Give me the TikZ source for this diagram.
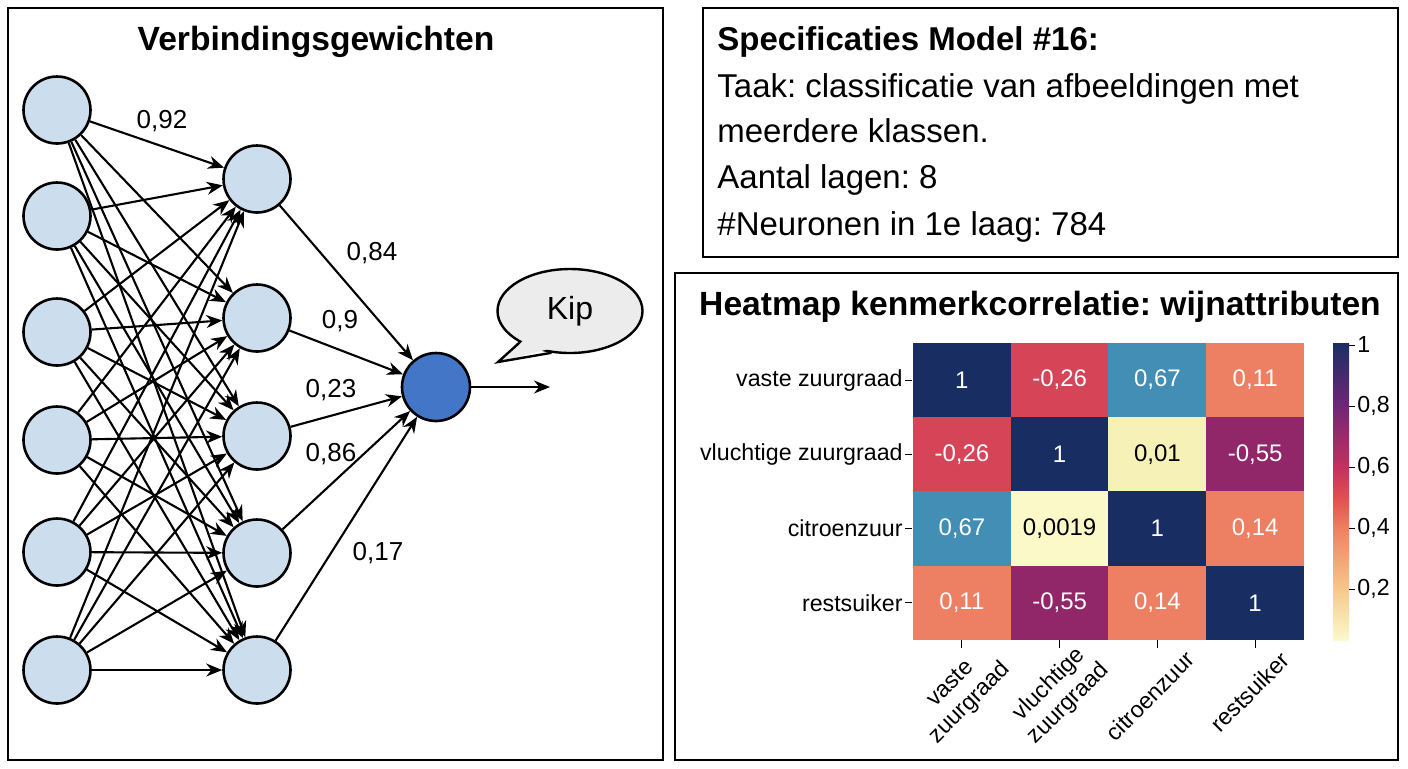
\documentclass[tikz,border=0pt]{standalone}
\usepackage{fontspec}
\setmainfont{Liberation Sans}
\frenchspacing
\usepackage{tikz}
\usetikzlibrary{positioning}
\usetikzlibrary{arrows.meta, shapes.geometric, calc}
\definecolor{nodeblue}{RGB}{204,222,238}
\definecolor{outblue}{RGB}{68,118,200}
\definecolor{bubblegray}{RGB}{236,236,236}
\definecolor{hmnavy}{RGB}{24,46,98}
\definecolor{hmred}{RGB}{214,68,88}
\definecolor{hmteal}{RGB}{66,142,180}
\definecolor{hmsalmon}{RGB}{237,128,98}
\definecolor{hmpale}{RGB}{246,241,182}
\definecolor{hmcream}{RGB}{251,249,200}
\definecolor{hmpurple}{RGB}{145,38,105}
\definecolor{cbA}{RGB}{251,249,205}
\definecolor{cbB}{RGB}{246,200,140}
\definecolor{cbC}{RGB}{239,128,95}
\definecolor{cbD}{RGB}{226,80,80}
\definecolor{cbE}{RGB}{196,48,94}
\definecolor{cbF}{RGB}{112,38,118}
\definecolor{cbG}{RGB}{26,46,100}

\begin{document}
\begin{tikzpicture}[x=0.5pt, y=-0.5pt,
    neuron/.style={circle, draw, line width=1.3pt, fill=nodeblue, minimum size=33.5pt, inner sep=0pt},
    pijl/.style={-{Stealth[length=8pt, width=6.5pt]}, line width=1.05pt},
    gewicht/.style={font=\fontsize{13}{15}\selectfont},
    paneel/.style={draw, line width=1pt},
    titel/.style={font=\bfseries\fontsize{16.8}{20}\selectfont},
    tekst/.style={anchor=base west, inner sep=0pt, font=\fontsize{16.5}{20}\selectfont},
    cel/.style={minimum width=48.9pt, minimum height=37.2pt, inner sep=0pt, font=\fontsize{12}{14}\selectfont},
    asnaam/.style={font=\fontsize{11.6}{13.5}\selectfont}]
    \useasboundingbox (0,0) rectangle (1408,768);

    % Vẽ ba khung
    \draw[paneel] (8,8) rectangle (663,760);
    \draw[paneel] (703,8) rectangle (1398,257);
    \draw[paneel] (675,273) rectangle (1398,760);

    % Mạng nơ-ron
    \node[titel, anchor=base] (nntitel) at (316,50) {Verbindingsgewichten};
    \foreach \n/\y in {1/110, 2/216, 3/332, 4/440, 5/552, 6/670}
        \node[neuron] (i\n) at (57,\y) {};
    \foreach \n/\y in {1/179, 2/318, 3/436, 4/553, 5/670}
        \node[neuron] (h\n) at (257,\y) {};
    \node[neuron, fill=outblue, minimum size=34pt] (uit) at (436,387) {};
    \foreach \a in {1,...,6}
        \foreach \b in {1,...,5}
            \draw[pijl] (i\a) -- (h\b); % mỗi đầu vào tới mỗi nút ẩn
    \foreach \b in {1,...,5}
        \draw[pijl] (h\b) -- (uit);
    \coordinate (einde) at (550,387);
    \draw[pijl] (uit) -- (einde);

    % Trọng số
    \node[gewicht] (w092) at (162,121) {0,92};
    \node[gewicht] (w084) at (372,253) {0,84};
    \node[gewicht] (w09) at (340,321) {0,9};
    \node[gewicht] (w023) at (331,390) {0,23};
    \node[gewicht] (w086) at (331,454) {0,86};
    \node[gewicht] (w017) at (378,553) {0,17};

    % Bong bóng "Kip"
    \node[ellipse, draw, line width=1.2pt, fill=bubblegray, minimum width=72.5pt, minimum height=42pt,
        font=\fontsize{16}{18}\selectfont] (kip) at (570,311) {Kip};
    \coordinate (punt) at (498,362);
    \fill[bubblegray] ($(kip.212)!0.12!(kip.center)$) -- (punt) -- ($(kip.246)!0.12!(kip.center)$) -- cycle;
    \draw[line width=1.2pt] (kip.212) -- (punt) -- (kip.246);

    % Thông số mô hình
    \node[tekst, font=\bfseries\fontsize{16.5}{20}\selectfont] (spec) at (717,50) {Specificaties Model \#16:};
    \node[tekst] (taak) at (717,97) {Taak: classificatie van afbeeldingen met};
    \node[tekst] (klassen) at (717,142) {meerdere klassen.};
    \node[tekst] (lagen) at (717,188) {Aantal lagen: 8};
    \node[tekst] (neuronen) at (717,235) {\#Neuronen in 1e laag: 784};

    % Heatmap
    \node[titel, anchor=base] (hmtitel) at (1040,315) {Heatmap kenmerkcorrelatie: wijnattributen};
    \foreach \r/\c/\v/\kl/\tk in {1/1/1/hmnavy/white, 1/2/{-0,26}/hmred/white, 1/3/{0,67}/hmteal/white, 1/4/{0,11}/hmsalmon/white,
        2/1/{-0,26}/hmred/white, 2/2/1/hmnavy/white, 2/3/{0,01}/hmpale/black, 2/4/{-0,55}/hmpurple/white,
        3/1/{0,67}/hmteal/white, 3/2/{0,0019}/hmcream/black, 3/3/1/hmnavy/white, 3/4/{0,14}/hmsalmon/white,
        4/1/{0,11}/hmsalmon/white, 4/2/{-0,55}/hmpurple/white, 4/3/{0,14}/hmsalmon/white, 4/4/1/hmnavy/white}
        \node[cel, fill=\kl, text=\tk] (c\r\c) at ({913+(\c-0.5)*97.75},{343+(\r-0.5)*74.25}) {\v};
    \foreach \r/\naam in {1/vaste zuurgraad, 2/vluchtige zuurgraad, 3/citroenzuur, 4/restsuiker}{
        \node[asnaam, anchor=east, inner sep=0pt] (rij\r) at (903,{343+(\r-0.5)*74.25}) {\naam};
        \draw[line width=0.5pt] (905,{343+(\r-0.5)*74.25}) -- (912,{343+(\r-0.5)*74.25});
    }
    \foreach \c in {1,...,4}
        \draw[line width=0.5pt] ({913+(\c-0.5)*97.75},640) -- ({913+(\c-0.5)*97.75},648);
    \node[asnaam, rotate=45, align=center] (kol1) at (961,694) {vaste\\zuurgraad};
    \node[asnaam, rotate=45, align=center] (kol2) at (1059,694) {vluchtige\\zuurgraad};
    \node[asnaam, rotate=45] (kol3) at (1150,696) {citroenzuur};
    \node[asnaam, rotate=45] (kol4) at (1250,692) {restsuiker};

    % Thang màu
    \foreach \ya/\yb/\ca/\cb in {640/589/cbA/cbB, 589.5/528/cbB/cbC, 528.5/498/cbC/cbD,
        498.5/467/cbD/cbE, 467.5/406/cbE/cbF, 406.5/343/cbF/cbG}
        \shade[bottom color=\ca, top color=\cb] (1333,\ya) rectangle (1349,\yb);
    \foreach \y/\t in {345/1, 406/{0,8}, 467/{0,6}, 528/{0,4}, 589/{0,2}}{
        \draw[line width=0.5pt] (1349,\y) -- (1355,\y);
        \node[asnaam, anchor=west, inner sep=0pt] at (1357,\y) {\t};
    }
\end{tikzpicture}
\end{document}
